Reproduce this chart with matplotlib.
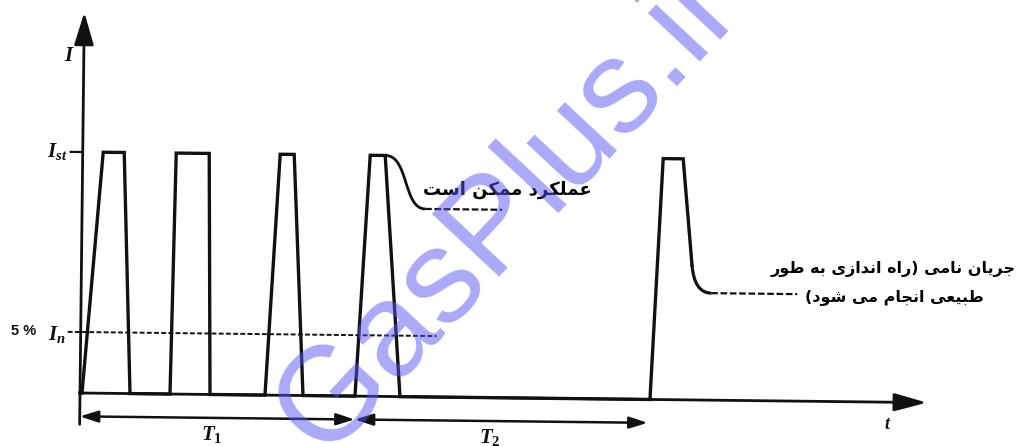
import matplotlib
matplotlib.use("Agg")
import matplotlib.pyplot as plt
from matplotlib.path import Path
from matplotlib.patches import PathPatch, FancyArrowPatch
from matplotlib.transforms import Affine2D

plt.rcParams["mathtext.fontset"] = "custom"
plt.rcParams["mathtext.it"] = "Liberation Serif:italic:bold"
plt.rcParams["mathtext.rm"] = "Liberation Serif:bold"
plt.rcParams["mathtext.bf"] = "Liberation Serif:bold"

# ---- data: motor current during repeated starts (current as fraction of I_st) ----
wave_t = [0.0, 0.2, 2.05, 4.15, 5.0, 9.0, 9.35, 12.65, 13.0, 18.5, 19.75, 21.15,
          22.3, 27.5, 28.75, 30.25, 32.0, 57.0, 58.05, 60.05, 61.05]
wave_i = [0.0, 0.0, 1.0, 1.0, 0.0, 0.0, 1.0, 1.0, 0.0, 0.0, 1.0, 1.0,
          0.0, 0.0, 1.0, 1.0, 0.0, 0.0, 1.0, 1.0, 0.56]

# fourth start: operation possible (Bezier control points)
branch4_t = [30.3, 32.6, 32.1, 34.3]
branch4_i = [1.0, 1.0, 0.78, 0.78]
lead4_t = [34.3, 42.0]

# fifth start: settles at rated current (Bezier control points)
branch5_t = [61.05, 61.31, 63.0]
branch5_i = [0.56, 0.444, 0.444]
lead5_t = [63.0, 71.6]

level_5pct = 0.253
level5_t = [-1.3, 35.6]
t_axis_end = 84.7
i_axis_span = [-0.13, 1.58]
T1_span = [0.0, 27.5]
T2_span = [27.5, 56.8]
T_level = -0.097

label_possible = "عملکرد ممکن است"
label_rated = ["جریان نامی (راه اندازی به طور", "طبیعی انجام می شود)"]

# ---- Persian shaping: contextual forms (isolated, final, initial, medial) ----
FORMS = {
    "ا": ("\uFE8D", "\uFE8E", None, None),
    "ب": ("\uFE8F", "\uFE90", "\uFE91", "\uFE92"),
    "ت": ("\uFE95", "\uFE96", "\uFE97", "\uFE98"),
    "ج": ("\uFE9D", "\uFE9E", "\uFE9F", "\uFEA0"),
    "د": ("\uFEA9", "\uFEAA", None, None),
    "ر": ("\uFEAD", "\uFEAE", None, None),
    "ز": ("\uFEAF", "\uFEB0", None, None),
    "س": ("\uFEB1", "\uFEB2", "\uFEB3", "\uFEB4"),
    "ش": ("\uFEB5", "\uFEB6", "\uFEB7", "\uFEB8"),
    "ط": ("\uFEC1", "\uFEC2", "\uFEC3", "\uFEC4"),
    "ع": ("\uFEC9", "\uFECA", "\uFECB", "\uFECC"),
    "ل": ("\uFEDD", "\uFEDE", "\uFEDF", "\uFEE0"),
    "م": ("\uFEE1", "\uFEE2", "\uFEE3", "\uFEE4"),
    "ن": ("\uFEE5", "\uFEE6", "\uFEE7", "\uFEE8"),
    "ه": ("\uFEE9", "\uFEEA", "\uFEEB", "\uFEEC"),
    "و": ("\uFEED", "\uFEEE", None, None),
    "ک": ("\uFB8E", "\uFB8F", "\uFB90", "\uFB91"),
    "ی": ("\uFBFC", "\uFBFD", "\uFBFE", "\uFBFF"),
}


def persian(s):
    out = []
    for k, ch in enumerate(s):
        if ch not in FORMS:
            out.append(ch)
            continue
        iso, fin, ini, med = FORMS[ch]
        prev = s[k - 1] if k > 0 else ""
        nxt = s[k + 1] if k + 1 < len(s) else ""
        jp = prev in FORMS and FORMS[prev][2] is not None
        jn = ini is not None and nxt in FORMS
        if jp and jn:
            out.append(med)
        elif jp:
            out.append(fin)
        elif jn:
            out.append(ini)
        else:
            out.append(iso)
    vis = "".join(out)[::-1]
    return vis.translate(str.maketrans("()", ")("))


# ---- figure ----
fig = plt.figure(figsize=(10.2, 4.46), dpi=100)
ax = fig.add_axes([0, 0, 1, 1])
ax.set_xlim(-8, 94)
ax.set_ylim(-53 / 241, 393 / 241)
ax.axis("off")

# the whole drawing sits slightly skewed on the page
tilt = ax.transData + Affine2D().rotate_deg_around(80, 53, -0.65)
ink = "#111111"

# axes with arrow heads
ax.add_patch(FancyArrowPatch((0, i_axis_span[0]), (0, i_axis_span[1]),
                             arrowstyle="-|>,head_length=20,head_width=6",
                             mutation_scale=1, lw=2.0, color=ink, transform=tilt,
                             shrinkA=0, shrinkB=0))
ax.add_patch(FancyArrowPatch((0, 0), (t_axis_end, 0),
                             arrowstyle="-|>,head_length=20,head_width=5.5",
                             mutation_scale=1, lw=2.0, color=ink, transform=tilt,
                             shrinkA=0, shrinkB=0))

# I_st tick
ax.plot([-1.2, 0], [1.0, 1.0], color=ink, lw=1.6, transform=tilt)

# 5% I_n level
ax.plot(level5_t, [level_5pct] * 2, color=ink, lw=1.4, ls=(0, (2.5, 1.2)),
        transform=tilt)

# current waveform
ax.plot(wave_t, wave_i, color=ink, lw=2.4, solid_joinstyle="miter", transform=tilt)

p4 = Path(list(zip(branch4_t, branch4_i)),
          [Path.MOVETO, Path.CURVE4, Path.CURVE4, Path.CURVE4])
ax.add_patch(PathPatch(p4, fill=False, lw=2.0, edgecolor=ink, transform=tilt))
ax.plot(lead4_t, [branch4_i[-1]] * 2, color=ink, lw=1.6, ls=(0, (3, 1.2)),
        transform=tilt)

p5 = Path(list(zip(branch5_t, branch5_i)), [Path.MOVETO, Path.CURVE3, Path.CURVE3])
ax.add_patch(PathPatch(p5, fill=False, lw=2.3, edgecolor=ink, transform=tilt))
ax.plot(lead5_t, [branch5_i[-1]] * 2, color=ink, lw=1.6, ls=(0, (3, 1.2)),
        transform=tilt)

# time spans T1, T2
for span in (T1_span, T2_span):
    ax.add_patch(FancyArrowPatch((span[0], T_level), (span[1], T_level),
                                 arrowstyle="<|-|>,head_length=11,head_width=3.5",
                                 mutation_scale=1, lw=1.8, color=ink, transform=tilt,
                                 shrinkA=0, shrinkB=0))

# labels
ax.text(-1.4, 1.40, "$I$", fontsize=15, ha="center", va="center", color=ink,
        transform=tilt)
ax.text(-1.5, 1.0, "$I_{st}$", fontsize=15, ha="right", va="center", color=ink,
        transform=tilt)
ax.text(-5.7, level_5pct, "5 %", fontsize=10.5, ha="center", va="center", color=ink,
        family="Liberation Sans", weight="bold", transform=tilt)
ax.text(-1.5, level_5pct - 0.01, "$I_n$", fontsize=15, ha="right", va="center",
        color=ink, transform=tilt)
ax.text(13.2, -0.165, "$T_1$", fontsize=15, ha="center", va="center", color=ink,
        transform=tilt)
ax.text(41.0, -0.165, "$T_2$", fontsize=15, ha="center", va="center", color=ink,
        transform=tilt)
ax.text(80.8, -0.09, "$t$", fontsize=13, ha="center", va="center", color=ink,
        transform=tilt)

ax.text(42.5, 0.862, persian(label_possible), fontsize=13, ha="center", va="center",
        color="black", family="DejaVu Sans", weight="bold", transform=tilt)
ax.text(81.2, 0.552, persian(label_rated[0]), fontsize=11.5, ha="center", va="center",
        color="black", family="DejaVu Sans", weight="bold", transform=tilt)
ax.text(81.3, 0.438, persian(label_rated[1]), fontsize=11.5, ha="center", va="center",
        color="black", family="DejaVu Sans", weight="bold", transform=tilt)

# site watermark
fig.text(508 / 1020, 1 - 210 / 446, "GasPlus.ir", fontsize=96,
         family="Liberation Sans", color=(0.33, 0.33, 0.95), alpha=0.5,
         rotation=47, rotation_mode="anchor", ha="center", va="center", zorder=10)

fig.savefig("out.png", dpi=100)
